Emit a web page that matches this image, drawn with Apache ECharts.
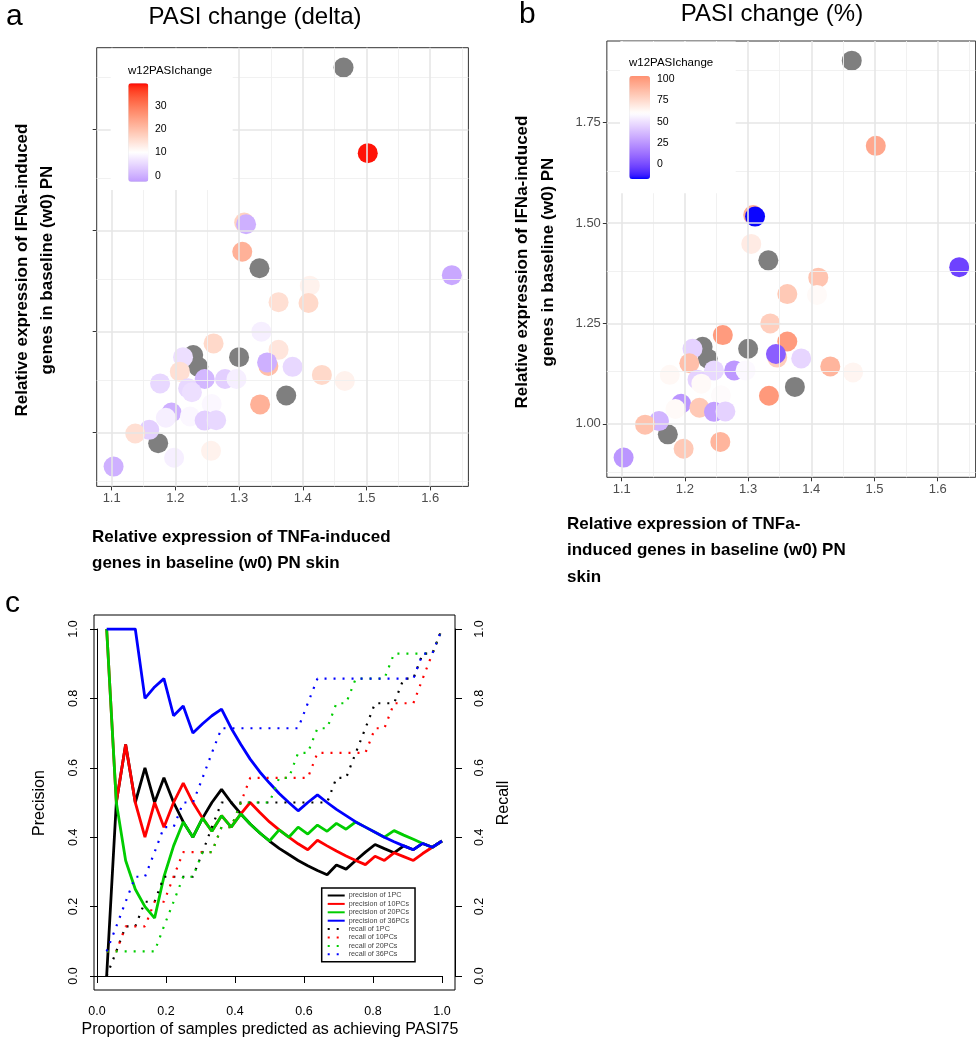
<!DOCTYPE html>
<html><head><meta charset="utf-8">
<script src="https://cdn.jsdelivr.net/npm/echarts@6/dist/echarts.min.js"></script>
<style>html,body{margin:0;padding:0;background:#fff}#c{width:976px;height:1050px}</style>
</head><body><div id="c"></div>
<script>
// ---------- panels a & b: samples ----------
const tnfX = [1.634,1.411,1.362,1.409,1.335,1.260,1.228,1.212,1.300,1.362,1.346,1.344,1.384,1.236,1.207,1.246,1.278,1.296,1.430,1.466,1.176,1.220,1.226,1.374,1.333,1.257,1.194,1.185,1.223,1.246,1.264,1.159,1.137,1.173,1.198,1.256,1.103,1.464,1.502,1.308,1.311,1.305,1.332];
const ifnY = [1.390,1.364,1.323,1.321,1.250,1.221,1.192,1.187,1.187,1.205,1.165,1.174,1.163,1.163,1.151,1.133,1.133,1.133,1.143,1.128,1.122,1.110,1.100,1.092,1.070,1.071,1.050,1.037,1.040,1.030,1.031,1.007,0.998,0.974,0.938,0.955,0.916,1.904,1.692,1.520,1.516,1.448,1.407];
const w12Delta = [-1,12,15,16,8,16,null,6,null,14,20,0,5,null,15,1,4,8,16,12,5,5,6,null,22,9,0,8,9,4,5,4,15,null,8,12,0,null,39,17,0,22,null];
const w12Pct = [-3,84,82,62,80,100,null,45,null,100,80,6,46,null,86,47,26,58,90,64,63,45,62,null,101,60,25,62,82,28,45,35,85,null,82,90,25,null,95,92,-17,68,null];
const xTicks = [1.1,1.2,1.3,1.4,1.5,1.6];
const xMinor = [1.15,1.25,1.35,1.45,1.55,1.65];
const yTicks = [1.0,1.25,1.5,1.75];
const yMinor = [0.875,1.125,1.375,1.625,1.875];
const legendTicksA = [0,10,20,30];
const legendTicksB = [0,25,50,75,100];

// ---------- panel c ----------
const propX = [0.028,0.056,0.083,0.111,0.139,0.167,0.194,0.222,0.25,0.278,0.306,0.333,0.361,0.389,0.417,0.444,0.472,0.5,0.528,0.556,0.583,0.611,0.639,0.667,0.694,0.722,0.75,0.778,0.806,0.833,0.861,0.889,0.917,0.944,0.972,1];
const prec1  = [0,0.5,0.667,0.5,0.6,0.5,0.571,0.5,0.444,0.4,0.455,0.5,0.538,0.5,0.467,0.438,0.412,0.389,0.368,0.35,0.333,0.318,0.304,0.292,0.32,0.308,0.333,0.357,0.379,0.367,0.355,0.375,0.364,0.382,0.371,0.389];
const prec10 = [1,0.5,0.667,0.5,0.4,0.5,0.429,0.5,0.556,0.5,0.455,0.417,0.462,0.429,0.467,0.5,0.471,0.444,0.421,0.4,0.381,0.364,0.391,0.375,0.36,0.346,0.333,0.321,0.345,0.333,0.355,0.344,0.333,0.353,0.371,0.389];
const prec20 = [1,0.5,0.333,0.25,0.2,0.167,0.286,0.375,0.444,0.4,0.455,0.417,0.462,0.429,0.467,0.438,0.412,0.389,0.421,0.4,0.429,0.409,0.435,0.417,0.44,0.423,0.444,0.429,0.414,0.4,0.419,0.406,0.394,0.382,0.371,0.389];
const prec36 = [1,1,1,1,0.8,0.833,0.857,0.75,0.778,0.7,0.727,0.75,0.769,0.714,0.667,0.625,0.588,0.556,0.526,0.5,0.476,0.5,0.522,0.5,0.48,0.462,0.444,0.429,0.414,0.4,0.387,0.375,0.364,0.382,0.371,0.389];
const rec1  = [0,0.071,0.143,0.143,0.214,0.214,0.286,0.286,0.286,0.286,0.357,0.429,0.5,0.5,0.5,0.5,0.5,0.5,0.5,0.5,0.5,0.5,0.5,0.5,0.571,0.571,0.643,0.714,0.786,0.786,0.786,0.857,0.857,0.929,0.929,1];
const rec10 = [0.071,0.071,0.143,0.143,0.143,0.214,0.214,0.286,0.357,0.357,0.357,0.357,0.429,0.429,0.5,0.571,0.571,0.571,0.571,0.571,0.571,0.571,0.643,0.643,0.643,0.643,0.643,0.643,0.714,0.714,0.786,0.786,0.786,0.857,0.929,1];
const rec20 = [0.071,0.071,0.071,0.071,0.071,0.071,0.143,0.214,0.286,0.286,0.357,0.357,0.429,0.429,0.5,0.5,0.5,0.5,0.571,0.571,0.643,0.643,0.714,0.714,0.786,0.786,0.857,0.857,0.857,0.857,0.929,0.929,0.929,0.929,0.929,1];
const rec36 = [0.071,0.143,0.214,0.286,0.286,0.357,0.429,0.429,0.5,0.5,0.571,0.643,0.714,0.714,0.714,0.714,0.714,0.714,0.714,0.714,0.714,0.786,0.857,0.857,0.857,0.857,0.857,0.857,0.857,0.857,0.857,0.857,0.857,0.929,0.929,1];
const cTicks = [0,0.2,0.4,0.6,0.8,1.0];
const cNames = ['precision of 1PC','precision of 10PCs','precision of 20PCs','precision of 36PCs','recall of 1PC','recall of 10PCs','recall of 20PCs','recall of 36PCs'];

// ---------- colour helpers (Lab interpolation, like ggplot gradient2) ----------
function toLin(c){c/=255;return c<=0.04045?c/12.92:Math.pow((c+0.055)/1.055,2.4);}
function fromLin(c){c=c<=0.0031308?12.92*c:1.055*Math.pow(c,1/2.4)-0.055;return Math.round(Math.max(0,Math.min(1,c))*255);}
function rgb2lab(rgb){const R=toLin(rgb[0]),G=toLin(rgb[1]),B=toLin(rgb[2]);
  const X=(0.4124*R+0.3576*G+0.1805*B)/0.95047,Y=(0.2126*R+0.7152*G+0.0722*B),Z=(0.0193*R+0.1192*G+0.9505*B)/1.08883;
  const f=t=>t>0.008856?Math.cbrt(t):7.787*t+16/116;
  return [116*f(Y)-16,500*(f(X)-f(Y)),200*(f(Y)-f(Z))];}
function lab2rgb(lab){const fy=(lab[0]+16)/116,fx=fy+lab[1]/500,fz=fy-lab[2]/200;
  const fi=t=>t*t*t>0.008856?t*t*t:(t-16/116)/7.787;
  const X=fi(fx)*0.95047,Y=fi(fy),Z=fi(fz)*1.08883;
  const R=3.2406*X-1.5372*Y-0.4986*Z,G=-0.9689*X+1.8758*Y+0.0415*Z,B=0.0557*X-0.2040*Y+1.0570*Z;
  return 'rgb('+fromLin(R)+','+fromLin(G)+','+fromLin(B)+')';}
const LAB_LOW=rgb2lab([0,0,255]),LAB_MID=rgb2lab([255,255,255]),LAB_HIGH=rgb2lab([255,0,0]);
function grad2(r){let a,b,t;if(r<0.5){a=LAB_LOW;b=LAB_MID;t=r/0.5;}else{a=LAB_MID;b=LAB_HIGH;t=(r-0.5)/0.5;}
  return lab2rgb([a[0]+(b[0]-a[0])*t,a[1]+(b[1]-a[1])*t,a[2]+(b[2]-a[2])*t]);}
function stops(min,max,mid,n){const d=Math.max(mid-min,max-mid),o=[];
  for(let i=0;i<n;i++){const v=min+(max-min)*i/(n-1);o.push(grad2(0.5+(v-mid)/(2*d)));}return o;}

const FONT='"Liberation Sans", Arial, sans-serif';
const A = {min:-2.6,max:39.6,mid:10};
const B = {min:-17.7,max:103.9,mid:60};

function pts(vals, na){const o=[];for(let i=0;i<tnfX.length;i++){if((vals[i]===null)===na)o.push([tnfX[i],ifnY[i],vals[i]===null?0:vals[i]]);}return o;}
function gridLines(){const maj={color:'#e6e6e6',width:1.6,type:'solid'},mn={color:'#efefef',width:0.9,type:'solid'};
  return [].concat(xMinor.map(v=>({xAxis:v,lineStyle:mn})),yMinor.map(v=>({yAxis:v,lineStyle:mn})),
    xTicks.map(v=>({xAxis:v,lineStyle:maj})),yTicks.map(v=>({yAxis:v,lineStyle:maj})));}
function gridSeries(ax){return {type:'scatter',xAxisIndex:ax,yAxisIndex:ax,data:[],silent:true,z:1,
  markLine:{silent:true,symbol:['none','none'],label:{show:false},animation:false,emphasis:{disabled:true},data:gridLines()}};}

function scatterAxes(idx, showY){
  return {
    x:{type:'value',gridIndex:idx,min:1.0765,max:1.66,axisLine:{show:false},splitLine:{show:false},
      axisTick:{show:true,length:4,lineStyle:{color:'#333'},customValues:xTicks},
      axisLabel:{customValues:xTicks,color:'#4d4d4d',fontSize:13,fontFamily:FONT,margin:6,formatter:v=>v.toFixed(1)}},
    y:{type:'value',gridIndex:idx,min:0.867,max:1.953,axisLine:{show:false},splitLine:{show:false},
      axisTick:{show:true,length:4,lineStyle:{color:'#333'},customValues:yTicks},
      axisLabel:{show:showY,customValues:yTicks,color:'#4d4d4d',fontSize:13,fontFamily:FONT,margin:6,formatter:v=>v.toFixed(2)}}
  };
}
const axA=scatterAxes(0,false), axB=scatterAxes(1,true);

const cColors=['#000000','#ff0000','#00cd00','#0000ff'];
const precArr=[prec1,prec10,prec20,prec36], recArr=[rec1,rec10,rec20,rec36];
const cSeries=[];
for(let i=0;i<4;i++){cSeries.push({name:cNames[i],type:'line',xAxisIndex:3,yAxisIndex:3,showSymbol:false,symbol:'none',z:3,
  data:propX.map((x,k)=>[x,precArr[i][k]]),lineStyle:{color:cColors[i],width:2.8},itemStyle:{color:cColors[i]}});}
for(let i=0;i<4;i++){cSeries.push({name:cNames[4+i],type:'line',xAxisIndex:3,yAxisIndex:4,showSymbol:false,symbol:'none',z:4,
  data:propX.map((x,k)=>[x,recArr[i][k]]),lineStyle:{color:cColors[i],width:2.2,type:[2,7]},itemStyle:{color:cColors[i]}});}

function txt(x,y,t,font,opt){return Object.assign({type:'text',x:x,y:y,z:20,style:{text:t,font:font,fill:'#000',align:'left',verticalAlign:'middle'}},opt||{});}
function rtxt(x,y,t,font){return {type:'text',x:x,y:y,rotation:Math.PI/2,z:20,style:{text:t,font:font,fill:'#000',align:'center',verticalAlign:'middle'}};}
const BOLD='bold 17px '+FONT;
const graphics=[
  txt(6,17,'a','30px '+FONT), txt(519,15,'b','30px '+FONT), txt(5,604,'c','30px '+FONT),
  {type:'text',x:255,y:17,z:20,style:{text:'PASI change (delta)',font:'24px '+FONT,fill:'#000',align:'center',verticalAlign:'middle'}},
  {type:'text',x:772,y:14,z:20,style:{text:'PASI change (%)',font:'24px '+FONT,fill:'#000',align:'center',verticalAlign:'middle'}},
  rtxt(22,270,'Relative expression of IFNa-induced',BOLD), rtxt(47,270,'genes in baseline (w0) PN',BOLD),
  rtxt(522,262,'Relative expression of IFNa-induced',BOLD), rtxt(548,262,'genes in baseline (w0) PN',BOLD),
  txt(92,537,'Relative expression of TNFa-induced',BOLD), txt(92,563,'genes in baseline (w0) PN skin',BOLD),
  txt(567,524,'Relative expression of TNFa-',BOLD), txt(567,550,'induced genes in baseline (w0) PN',BOLD), txt(567,577,'skin',BOLD),
  // legend backgrounds
  {type:'rect',z:6,shape:{x:110.7,y:48.8,width:122,height:141.2},style:{fill:'#fff'}},
  {type:'rect',z:6,shape:{x:620,y:41.5,width:115.7,height:151.8},style:{fill:'#fff'}},
  txt(128,71,'w12PASIchange','11.5px '+FONT), txt(629,63,'w12PASIchange','11.5px '+FONT),
  // panel c axis names
  rtxt(40,803,'Precision','16px '+FONT), rtxt(504,803,'Recall','16px '+FONT),
  {type:'text',x:270,y:1030,z:20,style:{text:'Proportion of samples predicted as achieving PASI75',font:'16px '+FONT,fill:'#000',align:'center',verticalAlign:'middle'}}
];
// colourbar labels
const barA={top:83.3,h:98.4}, barB={top:76,h:103};
legendTicksA.forEach(v=>graphics.push(txt(155,barA.top+barA.h*(A.max-v)/(A.max-A.min),String(v),'10.5px '+FONT)));
legendTicksB.forEach(v=>graphics.push(txt(657,barB.top+barB.h*(B.max-v)/(B.max-B.min),String(v),'10.5px '+FONT)));

const option={
  animation:false,
  grid:[
    {left:96.7,top:47.7,width:371.7,height:438.7,show:true,borderColor:'#333',borderWidth:1,backgroundColor:'#fff'},
    {left:606.85,top:41,width:368.8,height:436.3,show:true,borderColor:'#333',borderWidth:1,backgroundColor:'#fff'},
    {left:94,top:615,width:361,height:375,show:true,borderColor:'#000',borderWidth:1},
    {left:97,top:629,width:345,height:347}
  ],
  xAxis:[axA.x,axB.x,
    {type:'value',gridIndex:2,min:0,max:1,show:false},
    {type:'value',gridIndex:3,min:0,max:1,interval:0.2,position:'bottom',offset:14,
      axisLine:{show:true,lineStyle:{color:'#000',width:1}},axisTick:{show:true,length:7,lineStyle:{color:'#000'}},
      splitLine:{show:false},axisLabel:{color:'#000',fontSize:12.5,fontFamily:FONT,margin:15,formatter:v=>v.toFixed(1)}}],
  yAxis:[axA.y,axB.y,
    {type:'value',gridIndex:2,min:0,max:1,show:false},
    {type:'value',gridIndex:3,min:0,max:1,interval:0.2,position:'left',offset:3,
      axisLine:{show:true,lineStyle:{color:'#000',width:1}},axisTick:{show:true,length:7,lineStyle:{color:'#000'}},
      splitLine:{show:false},axisLabel:{color:'#000',fontSize:12.5,fontFamily:FONT,rotate:90,margin:14,formatter:v=>v.toFixed(1)}},
    {type:'value',gridIndex:3,min:0,max:1,interval:0.2,position:'right',offset:13,
      axisLine:{show:true,lineStyle:{color:'#000',width:1}},axisTick:{show:true,length:7,lineStyle:{color:'#000'}},
      splitLine:{show:false},axisLabel:{color:'#000',fontSize:12.5,fontFamily:FONT,rotate:90,margin:18,formatter:v=>v.toFixed(1)}}],
  visualMap:[
    {type:'continuous',seriesIndex:2,dimension:2,min:A.min,max:A.max,inRange:{color:stops(A.min,A.max,A.mid,41)},
      left:128.3,top:barA.top,itemWidth:20,itemHeight:barA.h,padding:0,calculable:false,hoverLink:false,z:10,text:null,showLabel:false},
    {type:'continuous',seriesIndex:5,dimension:2,min:B.min,max:B.max,inRange:{color:stops(B.min,B.max,B.mid,41)},
      left:629.3,top:barB.top,itemWidth:20.7,itemHeight:barB.h,padding:0,calculable:false,hoverLink:false,z:10,text:null,showLabel:false}
  ],
  legend:{data:cNames,orient:'vertical',left:321.7,top:888,padding:[4,6,4,5],itemGap:1.4,itemWidth:17,itemHeight:7.4,
    backgroundColor:'#fff',borderColor:'#000',borderWidth:1.5,borderRadius:0,selectedMode:false,
    itemStyle:{opacity:0,borderWidth:0},
    textStyle:{fontSize:7.2,color:'#444',fontFamily:FONT,padding:[0,0,0,-1]}},
  graphic:{elements:graphics},
  series:[
    gridSeries(0),
    {type:'scatter',xAxisIndex:0,yAxisIndex:0,symbolSize:20,z:3,data:pts(w12Delta,true),itemStyle:{color:'#7f7f7f',opacity:1}},
    {type:'scatter',xAxisIndex:0,yAxisIndex:0,symbolSize:20,z:3,data:pts(w12Delta,false),itemStyle:{opacity:1}},
    gridSeries(1),
    {type:'scatter',xAxisIndex:1,yAxisIndex:1,symbolSize:20,z:3,data:pts(w12Pct,true),itemStyle:{color:'#7f7f7f',opacity:1}},
    {type:'scatter',xAxisIndex:1,yAxisIndex:1,symbolSize:20,z:3,data:pts(w12Pct,false),itemStyle:{opacity:1}}
  ].concat(cSeries)
};
const chart=echarts.init(document.getElementById('c'),null,{renderer:'canvas'});
chart.setOption(option);
</script></body></html>
